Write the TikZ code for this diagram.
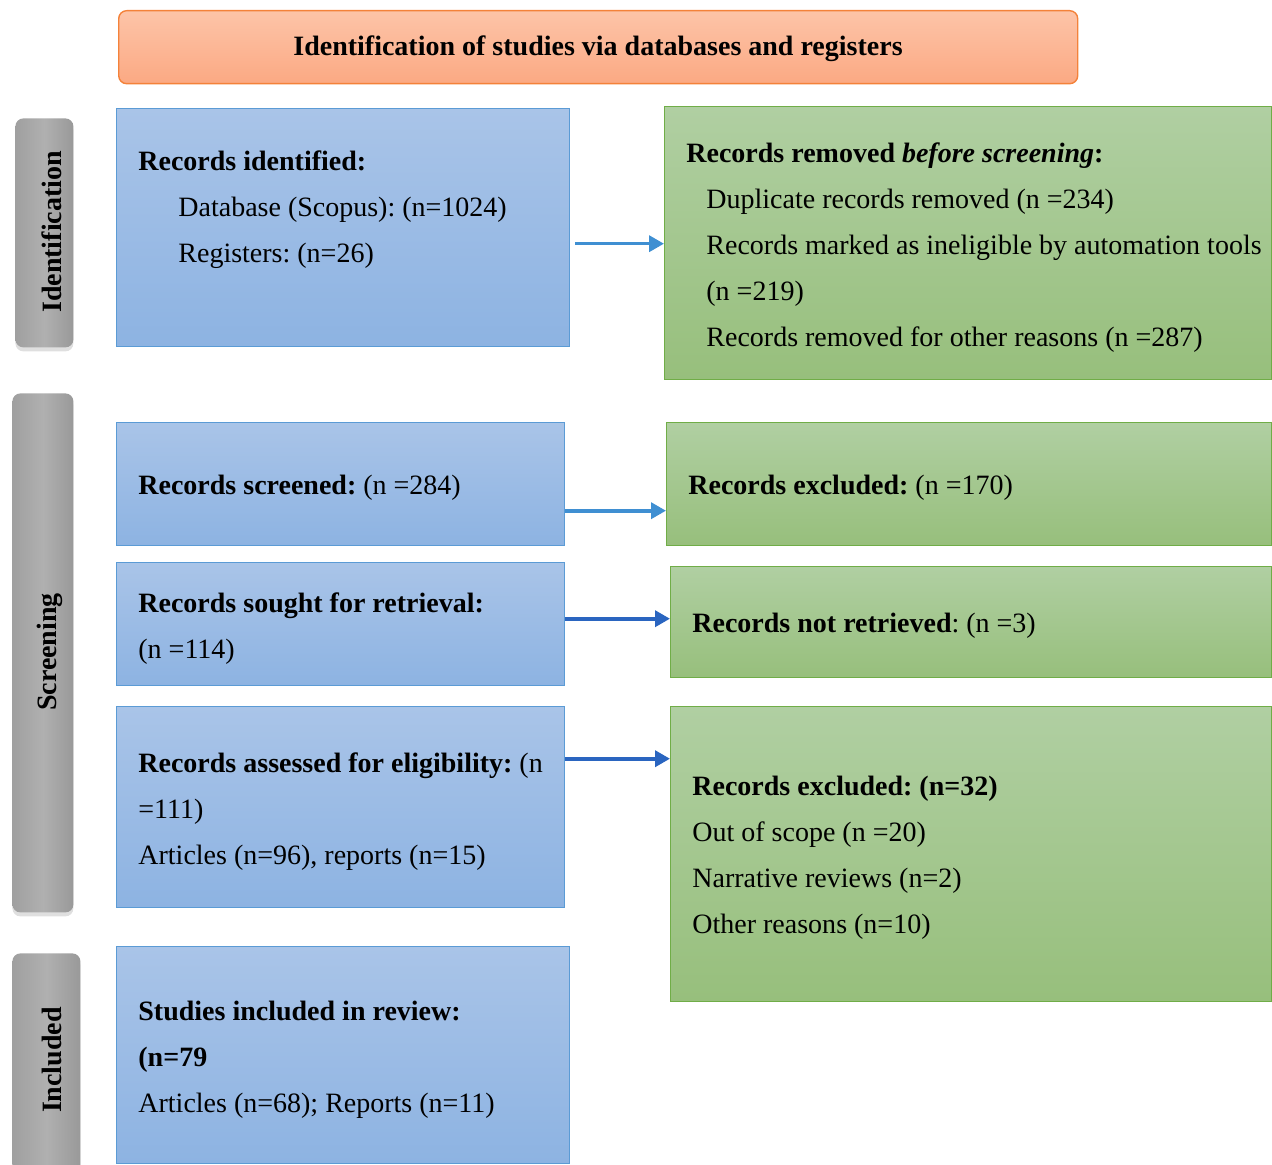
\documentclass[tikz,border=0pt]{standalone}
\usepackage{fontspec}
\setmainfont{Liberation Serif}
\usepackage{xcolor}
\usetikzlibrary{arrows.meta,shadows}
\frenchspacing

\definecolor{blueTop}{HTML}{A9C4E8}
\definecolor{blueBot}{HTML}{8DB3E2}
\definecolor{blueLine}{HTML}{5B9BD5}
\definecolor{greenTop}{HTML}{B0CFA2}
\definecolor{greenBot}{HTML}{97BF7C}
\definecolor{greenLine}{HTML}{70AD47}
\definecolor{orangeTop}{HTML}{FDC4A8}
\definecolor{orangeBot}{HTML}{FBA983}
\definecolor{orangeLine}{HTML}{F4823A}
\definecolor{arrowLight}{HTML}{3F8FD2}
\definecolor{arrowDark}{HTML}{2A65C0}

\begin{document}
\begin{tikzpicture}[x=0.5pt, y=-0.5pt, >={Triangle[length=7.5pt,width=8pt]}]
\tikzstyle{bluebox}=[draw=blueLine, line width=0.7pt, top color=blueTop, bottom color=blueBot, anchor=north west, inner sep=0pt]
\tikzstyle{greenbox}=[draw=greenLine, line width=0.7pt, top color=greenTop, bottom color=greenBot, anchor=north west, inner sep=0pt]
\tikzstyle{phase}=[rounded corners=4pt, left color=gray!75, right color=gray!80, middle color=gray!62, anchor=north west, inner sep=0pt, drop shadow={opacity=0.25, shadow xshift=0pt, shadow yshift=-2pt}]
\tikzstyle{phasetext}=[rotate=90, font=\fontsize{14}{16}\selectfont\bfseries]
\tikzstyle{txt}=[anchor=north west, inner sep=0pt, align=left, font=\fontsize{14}{23}\selectfont]
\tikzstyle{arr}=[->, line width=1.8pt]

\useasboundingbox (0,0) rectangle (1272,1165);
\clip (0,0) rectangle (1272,1165);

% header
\node[draw=orangeLine, line width=0.7pt, rounded corners=4pt, top color=orangeTop, bottom color=orangeBot,
  minimum width=479.5pt, minimum height=36.5pt, anchor=north west, inner sep=0pt] (head) at (118,10) {};
\node[font=\fontsize{14}{16}\selectfont\bfseries, inner sep=0pt] (headtxt) at (598,49) {Identification of studies via databases and registers};

% phase bars
\node[phase, minimum width=29pt, minimum height=114.5pt] (pid) at (15,118) {};
\node[phase, minimum width=30.5pt, minimum height=259.5pt] (pscr) at (12,393) {};
\node[phase, minimum width=34pt, minimum height=112pt] (pinc) at (12,953) {};
\node[phasetext] (lid) at (52,232) {Identification};
\node[phasetext] (lscr) at (50,652) {Screening};
\node[phasetext] (linc) at (52,1060) {Included};

% left column
\node[bluebox, minimum width=226.5pt, minimum height=119pt] (ident) at (116,108) {};
\node[bluebox, minimum width=224pt, minimum height=61.5pt] (screen) at (116,422) {};
\node[bluebox, minimum width=224pt, minimum height=61.5pt] (sought) at (116,562) {};
\node[bluebox, minimum width=224pt, minimum height=100.5pt] (assess) at (116,706) {};
\node[bluebox, minimum width=226.5pt, minimum height=108.5pt] (incl) at (116,946) {};

% right column
\node[greenbox, minimum width=303.5pt, minimum height=136.5pt] (removed) at (664,106) {};
\node[greenbox, minimum width=302.5pt, minimum height=61.5pt] (excl) at (666,422) {};
\node[greenbox, minimum width=300.5pt, minimum height=55.5pt] (notret) at (670,566) {};
\node[greenbox, minimum width=300.5pt, minimum height=147.5pt] (excl2) at (670,706) {};

% texts
\node[txt] (tident) at (138,150) {\textbf{Records identified:}\\
  \hspace*{20pt}Database (Scopus): (n=1024)\\
  \hspace*{20pt}Registers: (n=26)};
\node[txt] (tremoved) at (686,142) {\textbf{Records removed \textit{before screening}:}\\
  \hspace*{10pt}Duplicate records removed (n =234)\\
  \hspace*{10pt}Records marked as ineligible by automation tools\\
  \hspace*{10pt}(n =219)\\
  \hspace*{10pt}Records removed for other reasons (n =287)};
\node[txt] (tscreen) at (138,475) {\textbf{Records screened:} (n =284)};
\node[txt] (texcl) at (688,475) {\textbf{Records excluded:} (n =170)};
\node[txt] (tsought) at (138,592) {\textbf{Records sought for retrieval:}\\(n =114)};
\node[txt] (tnotret) at (692,613) {\textbf{Records not retrieved}: (n =3)};
\node[txt] (tassess) at (138,752) {\textbf{Records assessed for eligibility:} (n\\=111)\\Articles (n=96), reports (n=15)};
\node[txt] (texcl2) at (692,776) {\textbf{Records excluded: (n=32)}\\Out of scope (n =20)\\Narrative reviews (n=2)\\Other reasons (n=10)};
\node[txt] (tincl) at (138,1001) {\textbf{Studies included in review:}\\\textbf{(n=79}\\Articles (n=68); Reports (n=11)};

% arrows
\draw[arr, arrowLight] ([xshift=2.5pt,yshift=-8pt]ident.east) -- ([yshift=-8pt]ident.east -| removed.west);
\draw[arr, arrowLight] ([yshift=-13.25pt]screen.east) -- ([yshift=-13.25pt]screen.east -| excl.west);
\draw[arr, arrowDark] ([yshift=2.75pt]sought.east) -- ([yshift=2.75pt]sought.east -| notret.west);
\draw[arr, arrowDark] ([yshift=24.25pt]assess.east) -- ([yshift=24.25pt]assess.east -| excl2.west);
\end{tikzpicture}
\end{document}
